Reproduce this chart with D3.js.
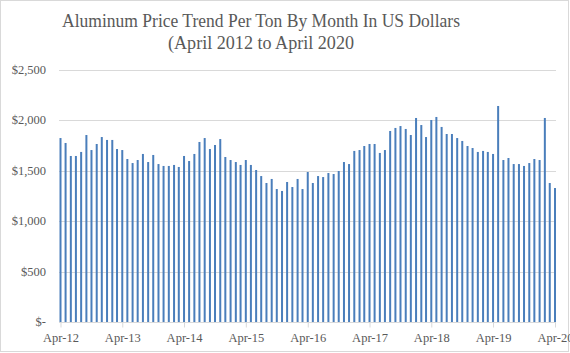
<!DOCTYPE html>
<html>
<head>
<meta charset="utf-8">
<script src="https://cdn.jsdelivr.net/npm/d3@7"></script>
<style>
  body { margin: 0; background: #fff; }
  text { font-family: "Liberation Serif", "DejaVu Serif", serif; fill: #595959; }
</style>
</head>
<body>
<div id="chart"></div>
<script>
// monthly prices, Apr 2012 .. Apr 2020
let startMonth = "2012-04";
let prices = [
  1825, 1776, 1647, 1647, 1687, 1855, 1706, 1766, 1835, 1806, 1806, 1716,
  1706, 1617, 1577, 1607, 1667, 1587, 1657, 1567, 1548, 1548, 1558, 1538,
  1647, 1597, 1667, 1786, 1825, 1716, 1756, 1815, 1637, 1607, 1587, 1558,
  1607, 1558, 1508, 1448, 1379, 1419, 1319, 1300, 1389, 1339, 1419, 1319,
  1488, 1379, 1448, 1438, 1478, 1468, 1498, 1587, 1567, 1697, 1706, 1746,
  1766, 1766, 1677, 1706, 1895, 1925, 1944, 1915, 1855, 2024, 1954, 1835,
  2004, 2034, 1935, 1865, 1865, 1825, 1796, 1746, 1726, 1687, 1697, 1687,
  1667, 2143, 1607, 1627, 1567, 1567, 1548, 1577, 1617, 1607, 2024, 1379,
  1329
];
let yTicks = [0, 500, 1000, 1500, 2000, 2500];
let yTickLabels = ["$-", "$500", "$1,000", "$1,500", "$2,000", "$2,500"];
let xTickLabels = ["Apr-12", "Apr-13", "Apr-14", "Apr-15", "Apr-16", "Apr-17", "Apr-18", "Apr-19", "Apr-20"];
let titleLines = ["Aluminum Price Trend Per Ton By Month In US Dollars", "(April 2012 to April 2020"];

let width = 570, height = 353;
let plot = {left: 59, right: 556, top: 70, bottom: 322};

let parseMonth = d3.timeParse("%Y-%m");
let first = parseMonth(startMonth);
let data = prices.map((p, i) => ({date: d3.timeMonth.offset(first, i), price: p}));

let svg = d3.select("#chart").append("svg")
  .attr("width", width)
  .attr("height", height);

// outer chart border
svg.append("rect")
  .attr("x", 0.5).attr("y", 0.5)
  .attr("width", width - 2).attr("height", height - 2)
  .attr("fill", "#fff")
  .attr("stroke", "#d9d9d9");

let xScale = d3.scaleTime()
  .domain([first, d3.timeMonth.offset(first, prices.length - 1)])
  .range([60.5, 555]);

let yScale = d3.scaleLinear()
  .domain([0, 2500])
  .range([plot.bottom, plot.top]);

// gridlines
svg.append("g").selectAll("line")
  .data(yTicks.filter(d => d > 0))
  .join("line")
    .attr("x1", plot.left).attr("x2", plot.right)
    .attr("y1", d => Math.round(yScale(d)) + 0.5)
    .attr("y2", d => Math.round(yScale(d)) + 0.5)
    .attr("stroke", "#d9d9d9")
    .attr("stroke-width", 1);

// y labels
svg.append("g").selectAll("text")
  .data(yTicks)
  .join("text")
    .attr("x", 46)
    .attr("y", d => yScale(d) + 4)
    .attr("text-anchor", "end")
    .attr("font-size", 12.5)
    .text((d, i) => yTickLabels[i]);

// bars
svg.append("g").selectAll("rect")
  .data(data)
  .join("rect")
    .attr("x", d => xScale(d.date) - 1)
    .attr("width", 2)
    .attr("y", d => yScale(d.price))
    .attr("height", d => yScale(0) - yScale(d.price))
    .attr("fill", "#4a7ebb");

// x axis
let yearTicks = d3.range(xTickLabels.length).map(i => d3.timeMonth.offset(first, i * 12));
let xAxis = d3.axisBottom(xScale)
  .tickValues(yearTicks)
  .tickSize(5)
  .tickFormat((d, i) => xTickLabels[i]);

let xAxisGroup = svg.append("g")
  .attr("transform", "translate(0," + (plot.bottom + 0.5) + ")")
  .call(xAxis);
xAxisGroup.select(".domain")
  .attr("d", "M" + plot.left + ",0H" + plot.right)
  .attr("stroke", "#d9d9d9");
xAxisGroup.selectAll(".tick line").attr("stroke", "#d9d9d9");
xAxisGroup.selectAll(".tick text")
  .attr("font-family", "Liberation Serif, DejaVu Serif, serif")
  .attr("font-size", 12.5)
  .attr("fill", "#595959")
  .attr("y", 11);

// title
svg.append("g").selectAll("text")
  .data(titleLines)
  .join("text")
    .attr("x", 261)
    .attr("y", (d, i) => 27 + i * 22)
    .attr("text-anchor", "middle")
    .attr("font-size", 18)
    .attr("textLength", (d, i) => i == 0 ? 398 : 186)
    .attr("lengthAdjust", "spacingAndGlyphs")
    .text(d => d);
</script>
</body>
</html>
